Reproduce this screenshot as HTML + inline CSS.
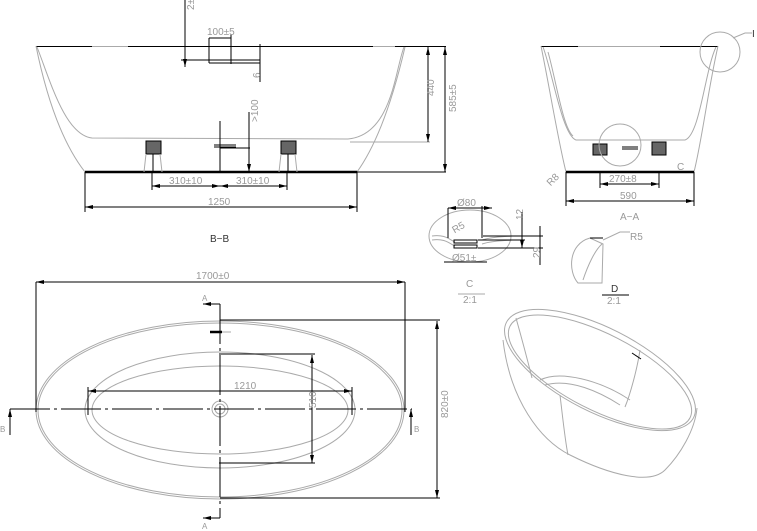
<!DOCTYPE html>
<html><head><meta charset="utf-8"><style>
html,body{margin:0;padding:0;background:#fff;width:757px;height:531px;overflow:hidden}
svg{display:block}
text{font-family:"Liberation Sans",sans-serif;fill:#999;font-size:10px}
.k{stroke:#000;fill:none;stroke-width:1}
.g{stroke:#aaa;fill:none;stroke-width:1}
.t{stroke:#000;fill:none;stroke-width:2.5}
</style></head><body>
<svg width="757" height="531" viewBox="0 0 757 531" xmlns="http://www.w3.org/2000/svg">
<defs><marker id="a" viewBox="0 0 8 4" refX="8" refY="2" markerWidth="8" markerHeight="4" orient="auto-start-reverse"><path d="M0,0L8,2L0,4z" fill="#000"/></marker></defs>

<!-- B-B side view -->
<line class="k" x1="36" y1="46.5" x2="92" y2="46.5"/><line class="g" x1="92" y1="46.5" x2="128" y2="46.5"/>
<line class="k" x1="128" y1="46.5" x2="373" y2="46.5"/><line class="g" x1="373" y1="46.5" x2="395" y2="46.5"/>
<line class="k" x1="395" y1="46.5" x2="446" y2="46.5"/>
<path class="g" d="M36,46 C45,90 60,140 85,172"/>
<path class="g" d="M405,47 C395,90 380,140 357,172"/>
<path class="g" d="M37,47 C50,80 65,135 92,138 L348,139 C392,135 395,70 404,47"/>
<line class="t" x1="85" y1="172" x2="357" y2="172"/>
<line class="k" x1="357" y1="172" x2="446" y2="172"/>
<line class="g" x1="350" y1="142" x2="430" y2="142"/>
<line class="k" x1="428" y1="47" x2="428" y2="142" marker-start="url(#a)" marker-end="url(#a)"/>
<line class="k" x1="445" y1="47" x2="445" y2="172" marker-start="url(#a)" marker-end="url(#a)"/>
<text x="427" y="103" transform="rotate(-90 427 96)">440</text>
<text x="444" y="124" transform="rotate(-90 444 112)">585±5</text>
<rect x="146" y="141" width="15" height="13" fill="#666" stroke="#000"/>
<rect x="281" y="141" width="15" height="13" fill="#666" stroke="#000"/>
<line class="k" x1="153" y1="154" x2="153" y2="172" stroke-width="2"/><line class="k" x1="288" y1="154" x2="288" y2="172" stroke-width="2"/>
<path class="g" d="M146,154 L144,172 M160,154 L162,172 M281,154 L279,172 M295,154 L297,172"/>
<line class="k" x1="220" y1="121" x2="220" y2="172"/>
<path class="k" d="M214,145 H236 M214,147 H236"/><line class="k" x1="220" y1="148" x2="250" y2="148"/>
<line class="k" x1="249" y1="112" x2="249" y2="172" marker-end="url(#a)"/>
<text x="247" y="133" transform="rotate(-90 247 122)">&gt;100</text>
<line class="k" x1="152" y1="172" x2="152" y2="190"/><line class="k" x1="287" y1="172" x2="287" y2="190"/>
<line class="k" x1="152" y1="186" x2="220" y2="186" marker-start="url(#a)" marker-end="url(#a)"/>
<line class="k" x1="220" y1="186" x2="287" y2="186" marker-start="url(#a)" marker-end="url(#a)"/>
<text x="169" y="184">310±10</text><text x="236" y="184">310±10</text>
<line class="k" x1="85" y1="172" x2="85" y2="212"/><line class="k" x1="357" y1="172" x2="357" y2="212"/>
<line class="k" x1="85" y1="207" x2="357" y2="207" marker-start="url(#a)" marker-end="url(#a)"/>
<text x="208" y="205">1250</text>
<text x="210" y="242" style="fill:#333">B−B</text>
<line class="k" x1="185" y1="0" x2="185" y2="67" marker-end="url(#a)"/>
<text x="190" y="14" transform="rotate(-90 190 10)">2±59</text>
<line class="k" x1="181" y1="60" x2="260" y2="60"/><line class="k" x1="209" y1="63" x2="260" y2="63"/>
<line class="k" x1="209" y1="38" x2="209" y2="63"/><line class="k" x1="231" y1="34" x2="231" y2="64"/>
<line class="k" x1="209" y1="38" x2="231" y2="38"/>
<text x="207" y="35">100±5</text>
<line class="k" x1="260" y1="44" x2="260" y2="82"/><text x="258" y="80" transform="rotate(-90 258 78)">6</text>

<!-- A-A view -->
<line class="k" x1="541" y1="46.5" x2="578" y2="46.5"/><line class="g" x1="578" y1="46.5" x2="660" y2="46.5"/><line class="k" x1="660" y1="46.5" x2="718" y2="46.5"/>
<path class="g" d="M541,46 C550,90 558,140 566,172"/>
<path class="g" d="M718,46 C708,90 702,140 694,172"/>
<path class="g" d="M543,47 C552,70 562,135 576,140 L685,140 C700,135 705,70 716,47"/>
<path class="g" d="M548,52 C556,80 563,128 573,136"/>
<line class="t" x1="566" y1="172" x2="694" y2="172"/>
<rect x="593" y="144" width="14" height="11" fill="#666" stroke="#000"/>
<rect x="652" y="142" width="14" height="13" fill="#666" stroke="#000"/>
<path class="k" d="M622,147 H638 M622,149 H638"/>
<circle class="g" cx="620" cy="145" r="21"/><text x="677" y="170">C</text>
<circle class="g" cx="720" cy="52" r="20"/><path class="g" d="M733,38 L745,33 H752"/><text x="752" y="37" style="fill:#333">I</text>
<text x="545" y="183" transform="rotate(-45 552 178)">R8</text>
<line class="k" x1="600" y1="172" x2="600" y2="188"/><line class="k" x1="659" y1="172" x2="659" y2="188"/>
<line class="k" x1="600" y1="184" x2="659" y2="184" marker-start="url(#a)" marker-end="url(#a)"/>
<text x="609" y="182">270±8</text>
<line class="k" x1="566" y1="172" x2="566" y2="206"/><line class="k" x1="694" y1="172" x2="694" y2="206"/>
<line class="k" x1="566" y1="201" x2="694" y2="201" marker-start="url(#a)" marker-end="url(#a)"/>
<text x="620" y="199">590</text><text x="620" y="220">A−A</text>

<!-- detail C -->
<ellipse class="g" cx="470" cy="236" rx="41" ry="26"/>
<path class="g" d="M432,236 C445,234 450,240 455,242 M432,240 C445,238 450,244 455,246 M482,240 C495,236 505,237 512,236 M482,244 C495,240 505,241 512,240"/>
<rect x="454" y="240" width="23" height="3" fill="none" stroke="#000"/><rect x="454" y="245" width="23" height="3" fill="none" stroke="#000"/>
<line class="k" x1="448" y1="208" x2="492" y2="208" marker-start="url(#a)" marker-end="url(#a)"/>
<line class="k" x1="448" y1="208" x2="448" y2="238"/><line class="k" x1="482" y1="206" x2="482" y2="238"/>
<text x="457" y="206">Ø80</text><text x="452" y="232" transform="rotate(-30 456 228)">R5</text>
<line class="k" x1="444" y1="262" x2="487" y2="262"/><text x="452" y="261">Ø51±</text>
<line class="k" x1="483" y1="236" x2="543" y2="236"/><line class="k" x1="478" y1="240" x2="525" y2="240"/><line class="k" x1="478" y1="248" x2="543" y2="248"/>
<line class="k" x1="522" y1="212" x2="522" y2="248" marker-end="url(#a)"/>
<line class="k" x1="540" y1="226" x2="540" y2="265" /><text x="519" y="224" transform="rotate(-90 519 220)">12</text><text x="536" y="262" transform="rotate(-90 536 258)">29</text>
<text x="466" y="287">C</text><line class="g" x1="458" y1="294" x2="485" y2="294"/><text x="463" y="303">2:1</text>

<!-- detail D -->
<path class="g" d="M590,238 C568,244 568,272 578,283 L602,283 L603,244 Z"/>
<path class="g" d="M583,280 C588,265 595,250 602,244"/>
<line class="k" x1="590" y1="238" x2="603" y2="238"/>
<path class="g" d="M603,240 L620,232 H630"/><text x="630" y="240">R5</text>
<text x="611" y="292" style="fill:#333">D</text><line class="k" x1="602" y1="295" x2="629" y2="295"/><text x="607" y="304">2:1</text>

<!-- top view -->
<ellipse class="g" cx="220" cy="410" rx="184" ry="89"/>
<ellipse class="g" cx="220" cy="410" rx="182" ry="87"/>
<ellipse class="g" cx="220" cy="410" rx="135" ry="58"/>
<ellipse class="g" cx="220" cy="410" rx="128" ry="44"/>
<circle class="g" cx="220" cy="409" r="8"/><circle class="g" cx="220" cy="409" r="5"/>
<line class="k" x1="36" y1="282" x2="405" y2="282" marker-start="url(#a)" marker-end="url(#a)"/>
<line class="k" x1="36" y1="282" x2="36" y2="412"/><line class="k" x1="405" y1="282" x2="405" y2="412"/>
<text x="196" y="279">1700±0</text>
<line class="k" x1="220" y1="304" x2="220" y2="518" stroke-dasharray="40,4,3,4"/>
<line class="k" x1="203" y1="304" x2="220" y2="304" marker-start="url(#a)"/><text x="202" y="301" style="font-size:8px">A</text>
<line class="k" x1="203" y1="518" x2="220" y2="518" marker-start="url(#a)"/><text x="202" y="529" style="font-size:8px">A</text>
<line class="t" x1="210" y1="332" x2="222" y2="332"/><line class="g" x1="222" y1="332" x2="231" y2="332"/>
<line class="k" x1="10" y1="409" x2="412" y2="409" stroke-dasharray="40,4,3,4"/>
<line class="k" x1="10" y1="435" x2="10" y2="409" marker-end="url(#a)"/><text x="0" y="432" style="font-size:8px">B</text>
<line class="k" x1="411" y1="435" x2="411" y2="409" marker-end="url(#a)"/><text x="414" y="432" style="font-size:8px">B</text>
<line class="k" x1="220" y1="320" x2="440" y2="320"/><line class="k" x1="220" y1="498" x2="440" y2="498"/>
<line class="k" x1="437" y1="321" x2="437" y2="498" marker-start="url(#a)" marker-end="url(#a)"/>
<text x="434" y="432" transform="rotate(-90 434 418)">820±0</text>
<line class="k" x1="219" y1="354" x2="315" y2="354"/><line class="k" x1="219" y1="463" x2="315" y2="463"/>
<line class="k" x1="312" y1="355" x2="312" y2="463" marker-start="url(#a)" marker-end="url(#a)"/>
<text x="309" y="415" transform="rotate(-90 309 408)">510</text>
<line class="k" x1="88" y1="387" x2="88" y2="415"/><line class="k" x1="352" y1="387" x2="352" y2="415"/>
<line class="k" x1="88" y1="391" x2="352" y2="391" marker-start="url(#a)" marker-end="url(#a)"/>
<text x="234" y="389">1210</text>

<!-- 3D view -->
<ellipse class="g" cx="600" cy="370" rx="105" ry="42" transform="rotate(27 600 370)"/>
<ellipse class="g" cx="600" cy="372" rx="101" ry="38" transform="rotate(27 600 372)"/>
<path class="g" d="M503,340 C510,400 540,440 570,455 C610,475 650,485 665,470 C680,455 695,430 697,408"/>
<path class="g" d="M540,380 C560,370 600,380 630,400 M545,385 C570,378 600,392 620,405"/>
<path class="g" d="M516,318 C525,350 530,370 532,378 M560,395 C563,420 565,440 568,455 M640,350 C637,370 630,395 625,407"/>
<line class="k" x1="632" y1="353" x2="641" y2="359"/>
</svg>
</body></html>
